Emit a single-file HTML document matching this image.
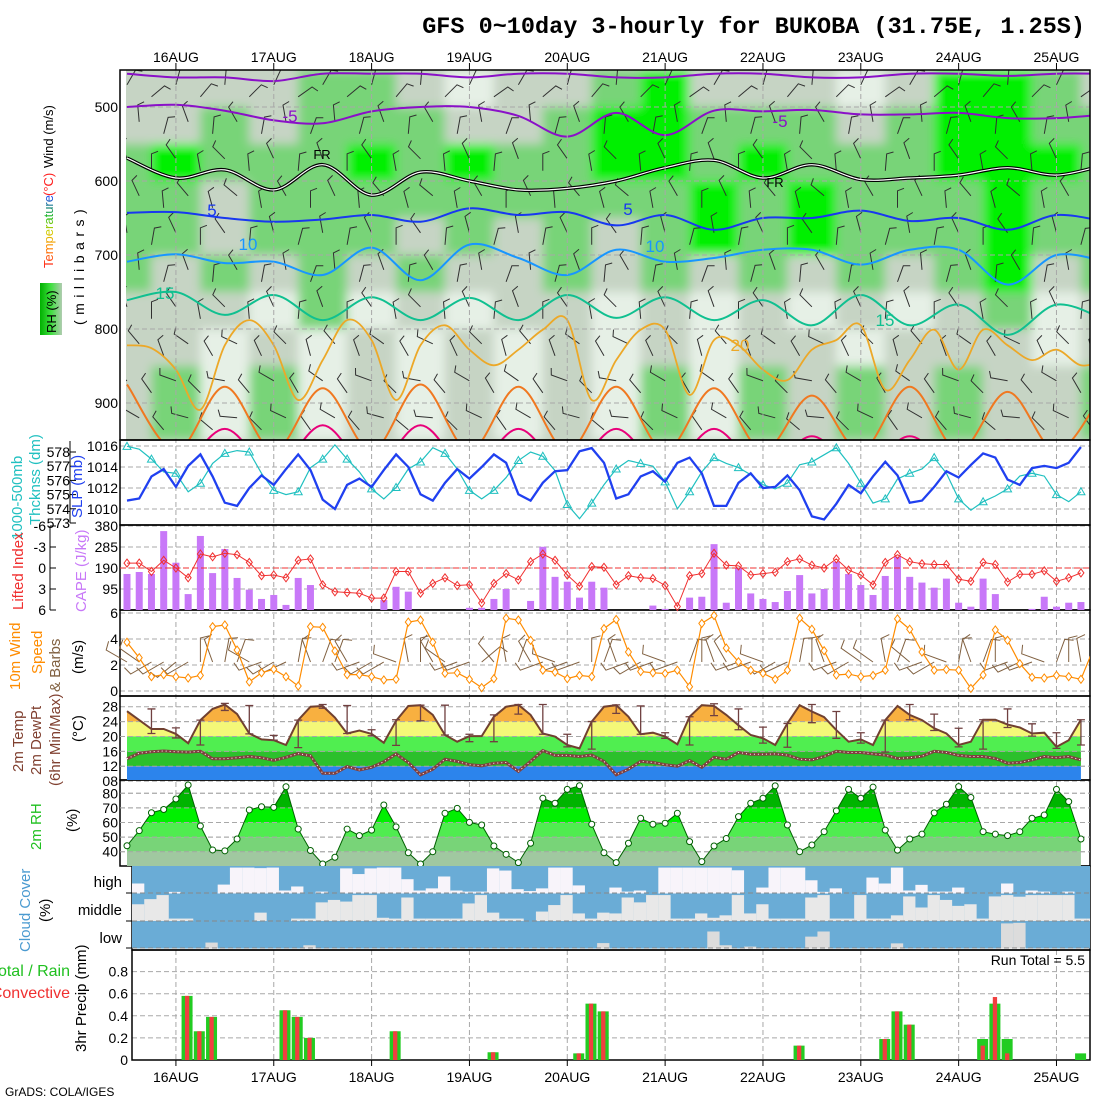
<!DOCTYPE html>
<html><head><meta charset="utf-8">
<style>
html,body{margin:0;padding:0;background:#fff;}
svg{display:block;font-family:"Liberation Sans",sans-serif;}
</style></head>
<body>
<svg id="chart" width="1100" height="1100" viewBox="0 0 1100 1100" xmlns="http://www.w3.org/2000/svg">
<defs>
  <linearGradient id="tempGrad" x1="0" y1="0" x2="1" y2="0">
    <stop offset="0" stop-color="#ff2020"/><stop offset="0.3" stop-color="#ff9000"/>
    <stop offset="0.5" stop-color="#d0d000"/><stop offset="0.7" stop-color="#20c020"/>
    <stop offset="1" stop-color="#2040ff"/>
  </linearGradient>
  <linearGradient id="rhGrad" x1="0" y1="0" x2="1" y2="0">
    <stop offset="0" stop-color="#00b000"/><stop offset="0.5" stop-color="#40e040"/><stop offset="1" stop-color="#b0ccb0"/>
  </linearGradient>
  <clipPath id="topClip"><rect x="126" y="70" width="964" height="370"/></clipPath>
  <clipPath id="plotClip"><rect x="120" y="0" width="970" height="1100"/></clipPath>
  <filter id="soft" x="-5%" y="-5%" width="110%" height="110%"><feGaussianBlur stdDeviation="5"/></filter>
</defs>

<text x="1085" y="33" text-anchor="end" font-family="Liberation Mono, monospace" font-weight="bold" font-size="23.5">GFS 0~10day 3-hourly for BUKOBA (31.75E, 1.25S)</text>

<g id="topPanel">
  <g clip-path="url(#topClip)"><g id="rhGrid" filter="url(#soft)"></g></g>
  <g id="topGrid"></g>
  <g id="topBarbs" clip-path="url(#topClip)"></g>
  <g id="contours" clip-path="url(#topClip)"></g>
</g>
<g id="panels"></g>
<g id="dayLines"></g>
<g id="frames"></g>
<g id="marks"></g>

<g font-size="13">
  <text transform="translate(53,268) rotate(-90)" fill="url(#tempGrad)">Temperature</text>
  <text transform="translate(53,196) rotate(-90)" fill="#ff2020">(°C)</text>
  <text transform="translate(53,168) rotate(-90)" fill="#000">Wind (m/s)</text>
  <rect x="40" y="283" width="22" height="52" fill="url(#rhGrad)"/>
  <text transform="translate(56,333) rotate(-90)" fill="#000">RH (%)</text>
  <text transform="translate(84,325) rotate(-90)" font-size="14" letter-spacing="5.5">(millibars)</text>
</g>
<g font-size="15">
  <text transform="translate(22,540) rotate(-90)" fill="#20c0c0">1000-500mb</text>
  <text transform="translate(40,525) rotate(-90)" fill="#20c0c0">Thcknss (dm)</text>
  <text transform="translate(82,518) rotate(-90)" fill="#2040f0">SLP (mb)</text>
  <text transform="translate(23,610) rotate(-90)" fill="#f03030">Lifted Index</text>
  <text transform="translate(86,612) rotate(-90)" fill="#c878f8">CAPE (J/kg)</text>
  <text transform="translate(20,690) rotate(-90)" fill="#ff8c00">10m Wind</text>
  <text transform="translate(42,674) rotate(-90)" fill="#ff8c00">Speed</text>
  <text transform="translate(60,692) rotate(-90)" fill="#806040">&amp; Barbs</text>
  <text transform="translate(83,674) rotate(-90)">(m/s)</text>
  <text transform="translate(23,772) rotate(-90)" fill="#804030">2m Temp</text>
  <text transform="translate(41,775) rotate(-90)" fill="#804030">2m DewPt</text>
  <text transform="translate(60,786) rotate(-90)" fill="#804030">(6hr Min/Max)</text>
  <text transform="translate(83,742) rotate(-90)">(°C)</text>
  <text transform="translate(41,850) rotate(-90)" fill="#20c020">2m RH</text>
  <text transform="translate(77,832) rotate(-90)">(%)</text>
  <text transform="translate(30,952) rotate(-90)" fill="#4a9ad0">Cloud Cover</text>
  <text transform="translate(50,922) rotate(-90)">(%)</text>
  <text x="122" y="887" text-anchor="end" font-size="15">high</text>
  <text x="122" y="915" text-anchor="end" font-size="15">middle</text>
  <text x="122" y="943" text-anchor="end" font-size="15">low</text>
  <text x="70" y="976" text-anchor="end" font-size="16" fill="#20c020">Total / Rain</text>
  <text x="70" y="998" text-anchor="end" font-size="16" fill="#f03030">Convective</text>
  <text transform="translate(86,1052) rotate(-90)">3hr Precip (mm)</text>
  <text x="1085" y="965" text-anchor="end" font-size="14">Run Total = 5.5</text>
  <text x="5" y="1096" font-size="12">GrADS: COLA/IGES</text>
</g>

<script>
// ---------- data ----------
const days = ["16AUG","17AUG","18AUG","19AUG","20AUG","21AUG","22AUG","23AUG","24AUG","25AUG"];
const presTicks = [500,600,700,800,900];
const slpTicks = [1010,1012,1014,1016];
const thickTicks = [573,574,575,576,577,578];
const capeTicks = [95,190,285,380];
const liTicks = [-6,-3,0,3,6];
const windTicks = [0,2,4,6];
const tempTicks = [28,24,20,16,12,8];
const rhTicks = [40,50,60,70,80];
const precipTicks = [0,0.2,0.4,0.6,0.8];

const slp = [1010.8,1011.0,1013.1,1013.8,1012.1,1014.1,1015.2,1013.1,1010.6,1010.3,1012.0,1013.2,1012.3,1013.8,1015.2,1013.7,1010.9,1010.0,1012.3,1012.9,1012.1,1013.7,1015.2,
1014.0,1011.4,1010.8,1012.5,1013.8,1012.9,1014.0,1015.2,1014.4,1011.4,1010.8,1012.5,1013.6,1013.7,1015.5,1015.8,1014.4,1011.0,1011.4,1013.1,1013.6,1012.6,1014.4,1014.9,1013.4,1010.3,1010.3,1012.5,1013.4,
1012.0,1012.1,1013.2,1011.8,1009.3,1009.0,1010.5,1012.3,1011.5,1013.1,1014.5,1013.2,1010.6,1010.8,1012.1,1013.6,1013.0,1014.2,1015.3,1014.9,1012.8,1012.3,1013.9,1014.1,1013.9,1014.4,1015.9];
const thick = [578.4,578.2,577.5,576.6,576.5,575.2,575.8,577.2,577.9,578.1,578.0,576.5,575.3,575.0,575.2,576.9,577.5,578.5,577.5,576.6,575.4,574.7,575.5,
576.8,577.3,578.3,577.9,576.8,575.3,574.7,575.3,576.2,577.4,578.0,577.7,576.7,574.3,573.3,574.4,575.7,576.8,577.4,577.2,577.0,575.9,574.0,575.2,576.6,577.6,577.2,576.9,576.4,
575.7,575.4,575.8,577.1,577.3,577.8,578.3,577.2,575.8,574.4,574.7,576.1,576.5,576.8,577.6,576.5,574.7,573.9,574.5,574.9,575.4,576.3,576.5,576.3,575.0,574.5,575.2];
const cape = [163,172,163,357,214,72,335,167,276,145,92,50,68,23,145,113,0,0,0,0,0,45,105,83,0,0,0,0,
10,10,50,95,0,41,286,150,128,56,128,101,0,0,0,20,5,0,56,60,298,33,188,75,
50,36,86,158,75,95,218,163,113,68,154,241,150,124,101,142,33,15,142,72,0,0,5,60,15,33,36];
const liftedIndex = [-0.7,-0.7,0.5,-1.1,0,1.4,-2.0,-1.6,-2.1,-1.9,-0.8,1.1,1.0,1.4,-1.1,-1.3,2.4,3.4,3.5,3.6,4.3,4.3,0.5,
0.5,3.6,2.2,1.4,2.5,2.4,5.0,2.2,0.8,1.7,-0.9,-2.0,-1.1,1.0,2.6,-0.2,-0.1,2.4,1.1,1.4,1.5,2.5,5.5,1.1,0.8,-2.1,-0.4,-0.3,
1.0,0.8,0.6,-0.9,-1.3,-0.4,0,-1.3,0.3,1.0,2.4,-0.8,-1.9,-0.9,-0.6,-0.5,-0.5,1.6,1.9,-0.8,-0.5,2.0,0.9,0.9,0.4,1.9,1.4,0.7];
const windSpeed = [3.75,2.56,1.1,1.26,1.1,1.0,1.2,4.95,5.08,3.15,0.7,1.4,1.67,1.1,0.38,4.95,4.9,3.08,1.26,1.26,1.1,0.85,0.9,
5.3,5.46,3.75,1.36,1.4,0.9,0.26,0.95,5.6,5.46,3.9,1.6,1.45,0.95,1.2,1.1,4.8,5.5,3.0,1.5,1.4,1.35,1.6,0.33,5.2,5.8,3.3,2.25,
1.6,1.36,0.9,1.6,5.6,4.75,3.1,1.23,1.3,1.1,1.2,1.6,5.55,4.75,3.0,1.6,1.65,1.6,0.2,1.23,4.7,3.9,2.1,1.05,1.0,1.2,1.1,0.9,3.2];
const windDir10 = [210,215,150,150,140,150,270,250,280,290,210,160,150,155,280,250,290,290,240,160,150,150,200,
260,270,240,215,160,160,320,230,260,290,240,160,200,160,160,270,290,250,160,150,160,200,160,290,270,250,240,160,
160,200,150,155,280,270,250,160,150,215,215,260,290,220,160,150,200,280,250,290,270,160,155,160,200,290,270,260,270];
const temp2m = [26.8,24.4,22.0,22.0,20.7,18.2,24.4,27.4,28.6,26.0,20.8,19.2,19.0,17.7,24.4,28.0,28.2,25.1,20.8,21.6,20.7,18.3,24.2,
28.2,28.4,25.8,20.4,18.6,20.1,20.1,25.3,28.0,28.5,25.8,20.8,20.0,17.7,16.8,24.0,28.0,28.4,25.3,20.6,21.0,20.0,17.9,25.3,28.4,28.2,25.8,23.0,
20.4,19.5,17.7,23.5,28.4,26.7,25.2,21.7,18.6,19.2,17.7,24.4,28.2,25.8,24.4,22.2,20.8,17.7,18.6,24.5,24.5,23.2,22.4,20.8,21.0,17.2,19.0,24.5];
const dewpt2m = [14.0,15.5,15.9,16.1,15.9,15.8,16.0,14.0,14.0,14.3,14.6,14.3,13.6,14.4,15.4,14.8,10.1,10.1,11.9,11.0,11.7,13.2,15.3,
13.0,9.7,11.2,13.9,13.3,12.4,12.1,12.8,13.0,10.6,13.3,16.2,14.9,14.9,14.6,15.0,13.3,9.7,11.2,13.3,13.0,12.4,12.0,13.5,11.7,14.4,13.9,15.7,
15.2,15.2,15.3,15.0,13.9,13.7,14.6,16.0,15.7,15.7,15.3,15.0,14.1,14.3,14.7,16.0,15.7,14.9,14.6,14.6,14.1,12.8,13.0,13.7,14.6,14.3,14.6,13.7];
const tmax6 = [null,27.4,22.3,24.4,28.9,28.3,20.3,24.4,28.6,28.3,21.8,24.5,28.4,28.4,20.6,25.8,28.6,28.6,20.6,24.0,28.5,28.2,21.0,25.3,28.8,27.4,22.5,23.5,28.6,26.7,21.0,24.4,28.6,26.0,22.2,24.5,27.4,23.4,21.0,24.5];
const tmin6 = [null,20.8,19.6,17.7,27.0,20.7,19.0,17.0,27.6,20.8,20.2,17.6,24.2,20.4,18.6,18.6,26.0,20.6,17.2,16.6,26.2,20.6,19.5,17.7,25.6,21.8,18.2,17.1,23.7,19.5,18.2,15.8,24.5,21.6,17.2,16.6,22.4,20.1,16.8,17.7];
const rh2m = [44.1,54.4,66.7,68.9,76.1,85.7,57.6,41.2,40.6,48.7,68.6,70.8,70.4,84.5,55.5,40.8,31.6,36.2,55.5,51,54.8,72,57,
39.3,31.6,40,66.3,69.7,60.1,58.3,43.9,38.2,32.5,45.8,76.6,73.2,82.7,85.2,58.8,39.3,32.5,45.8,62.9,58.8,59.5,66.3,46.9,33.2,43.9,49,64,
73.2,76.6,85.1,58.3,40,44.6,53.7,68,82.7,76.6,84.2,54.8,41.1,48.7,52,66.6,72.5,84.6,77.1,53.7,52,51,53.7,62.9,65.1,82.7,74.3,48.7];
const cloudHigh = [63,100,100,94,100,100,100,67,4,4,6,4,89,74,100,93,100,7,28,7,4,4,47,89,81,37,89,93,93,7,15,84,91,81,4,4,70,100,100,78,93,89,100,4,4,4,4,4,4,14,100,78,4,4,4,51,94,81,100,100,41,63,4,89,68,93,93,78,100,100,100,63,100,89,93,100,93,100,100];
const cloudMid = [38,19,4,91,91,100,100,100,100,100,69,100,100,91,91,31,22,28,4,4,88,91,13,91,91,91,91,35,4,69,91,91,100,65,41,4,72,91,69,72,13,31,4,4,91,91,72,88,79,4,72,38,91,91,91,13,4,91,91,4,91,91,79,9,50,4,22,44,38,91,9,4,10,4,4,4,4,91,91];
const cloudLow = [100,100,100,100,100,100,78,100,100,100,100,100,100,100,88,100,100,100,100,100,100,100,100,100,100,100,100,100,100,100,100,100,100,100,100,100,100,100,80,100,100,100,100,100,100,100,100,37,88,100,93,100,100,100,100,56,37,100,100,100,100,100,81,100,100,100,100,100,100,100,100,7,5,100,100,100,100,100,100];
const precipTotal = [0,0,0,0,0.58,0.26,0.39,0,0,0,0,0,0.45,0.39,0.2,0,0,0,0,0,0,0.26,0,0,0,0,0,0,0,0.07,0,0,0,0,0,0,0.06,0.51,0.44,0,0,0,0,0,0,0,0,0,0,0,0,0,0,0,0.13,0,0,0,0,0,0,0.19,0.44,0.32,0,0,0,0,0,0.19,0.51,0.19,0,0,0,0,0,0.06,0];
const precipConv = [0,0,0,0,0.58,0.26,0.39,0,0,0,0,0,0.45,0.39,0.2,0,0,0,0,0,0,0.26,0,0,0,0,0,0,0,0.07,0,0,0,0,0,0,0.06,0.51,0.44,0,0,0,0,0,0,0,0,0,0,0,0,0,0,0,0.13,0,0,0,0,0,0,0.19,0.44,0.32,0,0,0,0,0,0.13,0.57,0.06,0,0,0,0,0,0,0];

const rhRow0 = [1,1,1,1,2,2,1,0,1,1,2,3,1,1,1,0,1,3,3,2,1];
const rhRow1 = [1,1,2,1,2,2,2,1,1,2,3,3,2,2,2,1,2,3,3,2,2];
const rhRow2 = [2,3,2,2,2,3,2,3,2,2,3,3,2,3,2,2,2,3,3,3,2];
const rhRow3 = [2,2,1,2,2,2,2,2,2,2,2,2,3,2,3,2,2,2,3,2,2];
const rhRow4 = [2,2,1,2,2,2,1,2,1,2,1,2,3,2,3,2,2,2,3,2,2];
const rhRow5 = [2,1,2,1,2,1,2,1,1,2,1,2,1,2,1,2,1,2,3,1,2];
const rhRow6 = [1,1,1,0,2,0,1,0,1,1,0,1,0,1,0,1,0,1,2,0,1];
const rhRow7 = [1,1,0,1,0,1,0,1,0,1,0,1,0,1,1,0,1,1,1,0,1];
const rhRow8 = [1,2,0,2,0,1,0,1,0,1,0,2,0,2,1,2,1,2,1,1,2];
const rhRow9 = [1,2,0,2,0,1,0,1,0,1,0,2,0,2,1,2,1,2,1,1,2];
const isoM10 = [455,460,460,465,455,455,455,460,455,455,460,460,455,455,460,460,455,455,458,455,455];
const isoM5 = [500,497,505,518,522,506,500,500,512,540,508,538,505,506,504,510,510,508,515,515,510];
const isoFR = [569,596,585,612,578,619,588,600,612,610,600,582,572,596,578,598,596,592,582,592,578];
const iso5 = [643,642,650,655,652,646,655,637,646,642,660,646,666,650,650,640,654,650,666,646,655];
const iso10 = [709,699,711,709,727,690,734,686,704,727,693,709,704,693,693,713,693,693,740,700,709];
const iso15 = [761,750,781,754,788,757,788,758,788,754,785,757,788,761,795,754,795,767,808,767,788];
const iso20 = [822,826,855,909,822,788,822,896,842,788,815,896,822,795,828,849,828,801,788,896,842,801,801,889,815,822,855,869,828,815,795,882,842,801,855,801,822,842,828,849,842];
const iso25 = [875,965,878,965,880,965,875,965,878,965,878,965,880,965,890,965,878,965,885,965,880];
const iso30 = [960,990,935,990,930,990,930,990,935,990,935,990,935,990,945,990,945,990,950,990,950];
const barbRowDir = [-60,-95,-110,-115,-100,-95,-110,-130,-145,-150];
const barbColSwing = [0,20,-15,10,-25,15,-5,25];

// ---------- helpers ----------
const NS = "http://www.w3.org/2000/svg";
const X = i => 127 + 12.23 * i;
const X12 = j => 127 + 48.92 * j;
const X6 = j => 127 + 24.46 * j;
const yP = mb => 70 + (mb - 450) * 0.74;
const ySlp = v => 509 - (v - 1010) * 10.5;
const yTh = v => 523 - (v - 573) * 14.2;
const yCape = v => 610 - v * 0.221;
const yLI = v => 568 + v * 7;
const yW = v => 691 - v * 13;
const yT = v => 706.7 + (28 - v) * 3.72;
const yRH = v => 793.3 + (80 - v) * 1.46;
const yPr = v => 1060 - v * 110.5;
function el(tag, attrs, parent) {
  const e = document.createElementNS(NS, tag);
  for (const k in attrs) e.setAttribute(k, attrs[k]);
  (parent || document.getElementById('marks')).appendChild(e);
  return e;
}
function smooth(pts) {
  let d = `M${pts[0][0].toFixed(1)},${pts[0][1].toFixed(1)}`;
  for (let i = 0; i < pts.length - 1; i++) {
    const p0 = pts[i - 1] || pts[i], p1 = pts[i], p2 = pts[i + 1], p3 = pts[i + 2] || p2;
    const c1x = p1[0] + (p2[0] - p0[0]) / 6, c1y = p1[1] + (p2[1] - p0[1]) / 6;
    const c2x = p2[0] - (p3[0] - p1[0]) / 6, c2y = p2[1] - (p3[1] - p1[1]) / 6;
    d += ` C${c1x.toFixed(1)},${c1y.toFixed(1)} ${c2x.toFixed(1)},${c2y.toFixed(1)} ${p2[0].toFixed(1)},${p2[1].toFixed(1)}`;
  }
  return d;
}
const poly = (arr, fy) => arr.map((v, i) => `${X(i).toFixed(1)},${fy(v).toFixed(1)}`).join(' ');
const GRID = {stroke: "#a8a8a8", "stroke-width": 1, "stroke-dasharray": "5,3", fill: "none"};
function hgrid(y, x1, name) {
  const l = el('line', Object.assign({x1: x1 || 120, x2: 1090, y1: y, y2: y}, GRID), document.getElementById('panels'));
  
  
}
function label(txt, x, y, anchor, name, size) {
  const t = el('text', {x: x, y: y + 5, 'text-anchor': anchor || 'end', 'font-size': size || 14}, document.getElementById('panels'));
  t.textContent = txt;
  
  
  return t;
}

// ---------- top cross-section ----------
const rhRows = [rhRow0, rhRow1, rhRow2, rhRow3, rhRow4, rhRow5, rhRow6, rhRow7, rhRow8, rhRow9];
const rhColors = ["#e6f0e6", "#c6d4c4", "#78d478", "#00f000", "#00b000"];
const rhG = document.getElementById('rhGrid');
el('rect', {x: 110, y: 60, width: 1000, height: 400, fill: "#c6d4c4"}, rhG);
rhRows.forEach((row, r) => {
  row.forEach((c, j) => {
    const cell = el('rect', {x: X12(j) - 24.6, y: 70 + 37 * r, width: 49.2, height: 37, fill: rhColors[c]}, rhG);
    
    
  });
});
presTicks.forEach(p => {
  const l = el('line', Object.assign({x1: 126, x2: 1090, y1: yP(p), y2: yP(p)}, GRID), document.getElementById('topGrid'));
  
  
  label(String(p), 118, yP(p), 'end', 'pressure-tick-label');
});
const tb = document.getElementById('topBarbs');
barbRowDir.forEach((dir, r) => {
  const mb = 470 + 50 * r;
  for (let i = (r % 2); i < 80; i += 2) {
    const a = (dir + barbColSwing[(i >> 1) % 8]) * Math.PI / 180;
    const x0 = X(i), y0 = yP(mb) + ((i >> 1) % 2) * 12;
    const x1 = x0 + 17 * Math.cos(a), y1 = y0 + 17 * Math.sin(a);
    const fa = a + Math.PI / 2.6;
    const b = el('path', {d: `M${x0.toFixed(1)},${y0.toFixed(1)}L${x1.toFixed(1)},${y1.toFixed(1)}L${(x1 + 7 * Math.cos(fa)).toFixed(1)},${(y1 + 7 * Math.sin(fa)).toFixed(1)}`, stroke: "#303030", "stroke-width": 1, fill: "none"}, tb);
    
    
  }
});
const cg = document.getElementById('contours');
function iso(arr, xf, color, w, name) {
  const pts = arr.map((v, j) => [xf(j), yP(v)]);
  const p = el('path', {d: smooth(pts), stroke: color, "stroke-width": w, fill: "none"}, cg);
  
  
  return p;
}
iso(isoM10, X12, "#8a10c8", 2, 'isotherm-minus10');
iso(isoM5, X12, "#8a10c8", 2, 'isotherm-minus5');
iso(isoFR, X12, "#000", 3.5, 'freezing-level-outer');
iso(isoFR, X12, "#fff", 1.2, 'freezing-level-inner');
iso(iso5, X12, "#1838f0", 2, 'isotherm-5');
iso(iso10, X12, "#1896ff", 2, 'isotherm-10');
iso(iso15, X12, "#10c090", 2, 'isotherm-15');
iso(iso20, X6, "#eca828", 1.8, 'isotherm-20');
iso(iso25, X12, "#f07820", 2, 'isotherm-25');
iso(iso30, X12, "#e8007a", 2, 'isotherm-30');
const isoLabels = [["-5", 290, 122, "#8a10c8"], ["-5", 780, 127, "#8a10c8"], ["FR", 322, 159, "#000"], ["FR", 775, 187, "#000"], ["5", 212, 216, "#1838f0"], ["5", 628, 215, "#1838f0"], ["10", 248, 250, "#1896ff"], ["10", 655, 252, "#1896ff"], ["15", 165, 299, "#10c090"], ["15", 885, 326, "#10c090"], ["20", 740, 351, "#eca828"]];
isoLabels.forEach(a => {
  const t = el('text', {x: a[1], y: a[2], fill: a[3], 'font-size': a[0] === 'FR' ? 13 : 17, 'text-anchor': 'middle'}, cg);
  t.textContent = a[0];
  
  
});

// ---------- panel grids & tick labels ----------
slpTicks.forEach(v => { hgrid(ySlp(v), 120, 'slp-gridline'); label(String(v), 118, ySlp(v), 'end', 'slp-tick-label'); });
thickTicks.forEach(v => label(String(v), 70, yTh(v), 'end', 'thickness-tick-label'));
capeTicks.forEach(v => { hgrid(yCape(v), 120, 'cape-gridline'); label(String(v), 118, yCape(v), 'end', 'cape-tick-label'); });
liTicks.forEach(v => label(String(v), 46, yLI(v), 'end', 'li-tick-label'));
windTicks.forEach(v => { hgrid(yW(v), 120, 'wind-gridline'); label(String(v), 118, yW(v), 'end', 'wind-tick-label'); });
tempTicks.forEach(v => { hgrid(yT(v), 120, 'temp-gridline'); label(v < 10 ? '0' + v : String(v), 118, yT(v), 'end', 'temp-tick-label'); });
rhTicks.forEach(v => { hgrid(yRH(v), 120, 'rh-gridline'); label(String(v), 118, yRH(v), 'end', 'rh-tick-label'); });
precipTicks.forEach(v => { if (v > 0) hgrid(yPr(v), 132, 'precip-gridline'); label(String(v), 128, yPr(v), 'end', 'precip-tick-label'); });

// ---------- SLP & thickness ----------
const thL = el('polyline', {points: poly(thick, yTh), stroke: "#20c0c0", "stroke-width": 1.2, fill: "none"});


thick.forEach((v, i) => {
  if (i % 2) return;
  const x = X(i), y = yTh(v);
  const m = el('path', {d: `M${x - 4},${y + 3}L${x + 4},${y + 3}L${x},${y - 4}Z`, stroke: "#20c0c0", "stroke-width": 1, fill: "none"});
  
  
});
const slpL = el('polyline', {points: poly(slp, ySlp), stroke: "#2040f0", "stroke-width": 2.3, fill: "none"});



// ---------- CAPE & LI ----------
cape.forEach((v, i) => {
  if (v <= 0) return;
  const b = el('rect', {x: X(i) - 3.5, y: yCape(v), width: 7, height: 610 - yCape(v), fill: "#c878f8"});
  
  
});
const li0 = el('line', {x1: 120, x2: 1090, y1: yLI(0), y2: yLI(0), stroke: "#f03030", "stroke-dasharray": "6,3"});


const liL = el('polyline', {points: poly(liftedIndex, yLI), stroke: "#f03030", "stroke-width": 1, fill: "none"});


liftedIndex.forEach((v, i) => {
  const x = X(i), y = yLI(v);
  const m = el('path', {d: `M${x},${y - 4}L${x + 3},${y}L${x},${y + 4}L${x - 3},${y}Z`, stroke: "#f03030", fill: "none"});
  
  
});

// ---------- 10 m wind ----------
windDir10.forEach((d, i) => {
  if (i > 78) return;
  const a = d * Math.PI / 180, x0 = X(i), y0 = 662;
  const x1 = x0 + 24 * Math.cos(a), y1 = y0 + 24 * Math.sin(a);
  const fa = a + Math.PI * 0.42;
  const b = el('path', {d: `M${x0.toFixed(1)},${y0}L${x1.toFixed(1)},${y1.toFixed(1)}L${(x1 + 9 * Math.cos(fa)).toFixed(1)},${(y1 + 9 * Math.sin(fa)).toFixed(1)}`, stroke: "#806040", "stroke-width": 1, fill: "none"});
  
  
});
const wL = el('polyline', {points: poly(windSpeed, yW), stroke: "#ff8c00", "stroke-width": 1.2, fill: "none", "clip-path": "url(#plotClip)"});


windSpeed.forEach((v, i) => {
  const x = X(i), y = yW(v);
  if (x > 1088) return;
  const m = el('path', {d: `M${x},${y - 4}L${x + 3},${y}L${x},${y + 4}L${x - 3},${y}Z`, stroke: "#ff8c00", fill: "#fff"});
  
  
});

// ---------- temperature ----------
const tPts = temp2m.map((v, i) => `${X(i).toFixed(1)},${yT(v).toFixed(1)}`).join(' ');
const tClip = el('clipPath', {id: 'tClip'}, document.querySelector('defs'));
el('polygon', {points: `${X(0)},780 ${tPts} ${X(temp2m.length - 1)},780`}, tClip);
const tBands = [[40, 24, "#f8b040"], [24, 20, "#f4f878"], [20, 16, "#50ee50"], [16, 12, "#2cc02c"], [12, 0, "#2c84ec"]];
const tg = el('g', {'clip-path': 'url(#tClip)'});
tBands.forEach(b => {
  const y1 = Math.max(696, yT(b[0])), y2 = Math.min(780, yT(b[1]));
  const r = el('rect', {x: 120, y: y1, width: 970, height: y2 - y1, fill: b[2]}, tg);
  
  
});
[yT(24), yT(20), yT(16), yT(12)].forEach(y => {
  const l = el('line', Object.assign({x1: 120, x2: 1090, y1: y, y2: y}, GRID));
  
  
});
const dL = el('polyline', {points: poly(dewpt2m, yT), stroke: "#804040", "stroke-width": 3, fill: "none"});


const dL2 = el('polyline', {points: poly(dewpt2m, yT), stroke: "#fff", "stroke-width": 1, "stroke-dasharray": "1,3", fill: "none"});


const tL = el('polyline', {points: tPts, stroke: "#704030", "stroke-width": 2, fill: "none"});


tmax6.forEach((mx, k) => {
  if (mx === null) return;
  const x = X(2 * k), y1 = yT(mx), y2 = yT(tmin6[k]);
  const e = el('path', {d: `M${x},${y1}L${x},${y2}M${x - 4},${y1}L${x + 4},${y1}M${x - 4},${y2}L${x + 4},${y2}`, stroke: "#704040", "stroke-width": 1.3, fill: "none"});
  
  
});

// ---------- RH ----------
const rPts = rh2m.map((v, i) => `${X(i).toFixed(1)},${yRH(v).toFixed(1)}`).join(' ');
const rClip = el('clipPath', {id: 'rClip'}, document.querySelector('defs'));
el('polygon', {points: `${X(0)},866 ${rPts} ${X(rh2m.length - 1)},866`}, rClip);
const rBands = [[100, 70, "#00b400"], [70, 60, "#00f000"], [60, 50, "#50ec50"], [50, 40, "#78d478"], [40, 0, "#a0c8a0"]];
const rg = el('g', {'clip-path': 'url(#rClip)'});
rBands.forEach(b => {
  const y1 = Math.max(780, yRH(b[0])), y2 = Math.min(866, yRH(b[1]));
  const r = el('rect', {x: 120, y: y1, width: 970, height: y2 - y1, fill: b[2]}, rg);
  
  
});
rhTicks.forEach(v => {
  const l = el('line', Object.assign({x1: 120, x2: 1090, y1: yRH(v), y2: yRH(v)}, GRID));
  
  
});
const rL = el('polyline', {points: rPts, stroke: "#006000", "stroke-width": 1, fill: "none"});


rh2m.forEach((v, i) => {
  const c = el('circle', {cx: X(i), cy: yRH(v), r: 3, fill: "#fff", stroke: "#006000"});
  
  
});

// ---------- cloud cover ----------
const cloudRows = [[cloudHigh, 866, "#f8f4fa"], [cloudMid, 893.5, "#e8e8e8"], [cloudLow, 921, "#dcdcdc"]];
cloudRows.forEach(row => {
  const bg = el('rect', {x: 132, y: row[1], width: 958, height: 27.5, fill: "#6aacd6"});
  
  
  row[0].forEach((c, k) => {
    const clear = (100 - c) / 100 * 27;
    if (clear <= 0) return;
    const x = 132 + 12.24 * k;
    const r = el('rect', {x: x, y: row[1] + 27.5 - clear, width: Math.min(12.3, 1090 - x), height: clear, fill: row[2]});
    
    
  });
});
[893, 921, 948].forEach(y => {
  const l = el('line', Object.assign({x1: 132, x2: 1090, y1: y, y2: y}, GRID, {stroke: "#888"}));
  
  
});

// ---------- precipitation ----------
precipTotal.forEach((v, k) => {
  if (v <= 0) return;
  const x = 132 + 12.24 * k;
  const g = el('rect', {x: x + 0.6, y: yPr(v), width: 11, height: 1060 - yPr(v), fill: "#22cc22"});
  
  
});
precipConv.forEach((v, k) => {
  if (v <= 0) return;
  const x = 132 + 12.24 * k;
  const r = el('rect', {x: x + 4, y: yPr(v), width: 4.3, height: 1060 - yPr(v), fill: "#f04040"});
  
  
});

// ---------- day lines, day labels, frames ----------
const dl = document.getElementById('dayLines');
days.forEach((d, n) => {
  const x = X(4 + 8 * n);
  const l = el('line', Object.assign({x1: x, x2: x, y1: 70, y2: 1060}, GRID), dl);
  
  
  const tk = el('line', {x1: x, x2: x, y1: 63, y2: 70, stroke: "#000"}, dl);
  
  
  const tk2 = el('line', {x1: x, x2: x, y1: 1060, y2: 1066, stroke: "#000"}, dl);
  
  
  const t1 = el('text', {x: x, y: 62, 'text-anchor': 'middle', 'font-size': 14}, dl);
  t1.textContent = d;
  
  
  const t2 = el('text', {x: x, y: 1082, 'text-anchor': 'middle', 'font-size': 14}, dl);
  t2.textContent = d;
  
  
});
const fr = document.getElementById('frames');
[[120, 70, 440], [120, 440, 525], [120, 525, 610], [120, 610, 696], [120, 696, 780], [120, 780, 866], [132, 866, 950], [132, 950, 1060]].forEach(f => {
  const r = el('rect', {x: f[0], y: f[1], width: 1090 - f[0], height: f[2] - f[1], fill: "none", stroke: "#000", "stroke-width": 1.5}, fr);
  
  
});
[[70, 441, 523], [50, 526, 610]].forEach(a => {
  const l = el('line', {x1: a[0], x2: a[0], y1: a[1], y2: a[2], stroke: "#000"}, fr);
  
  
});
thickTicks.forEach(v => {
  const t = el('line', {x1: 70, x2: 76, y1: yTh(v), y2: yTh(v), stroke: "#000"}, fr);
  
  
});
liTicks.forEach(v => {
  const t = el('line', {x1: 50, x2: 56, y1: yLI(v), y2: yLI(v), stroke: "#000"}, fr);
  
  
});
[866, 893, 921, 948].forEach(y => {
  const t = el('line', {x1: 126, x2: 132, y1: y, y2: y, stroke: "#000"}, fr);
  
  
});
</script>
</svg>
</body></html>
